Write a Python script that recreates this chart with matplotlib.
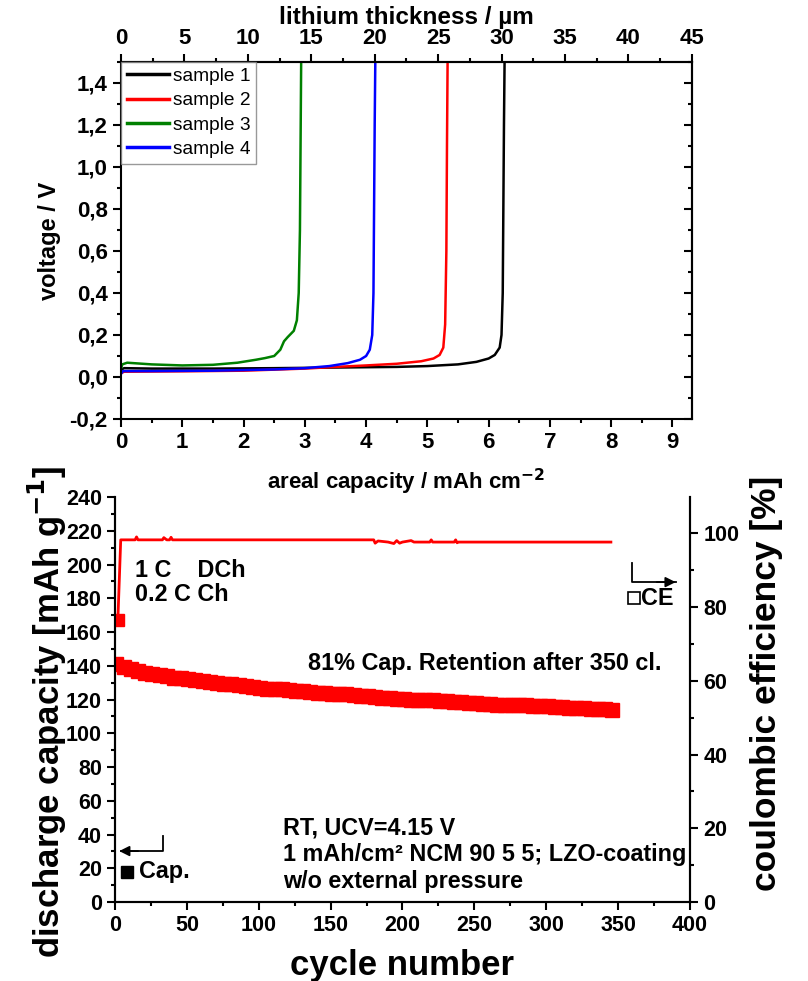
import numpy as np
import matplotlib
matplotlib.use('Agg')
import matplotlib.pyplot as plt
from matplotlib.ticker import MultipleLocator, FuncFormatter

plt.rcParams['font.family'] = ['Liberation Sans', 'DejaVu Sans']
plt.rcParams['font.weight'] = 'bold'
plt.rcParams['axes.labelweight'] = 'bold'
plt.rcParams['axes.linewidth'] = 1.5

# ---- top panel: voltage vs areal capacity ----
s1_x = [0, 0.05, 0.5, 1.5, 2.5, 3.5, 4.5, 5.0, 5.5, 5.8, 6.0, 6.1, 6.18, 6.21, 6.23, 6.24, 6.25, 6.26]
s1_y = [0.035, 0.042, 0.04, 0.04, 0.042, 0.045, 0.048, 0.052, 0.06, 0.072, 0.088, 0.105, 0.14, 0.2, 0.4, 0.8, 1.2, 1.5]
s2_x = [0, 0.05, 1, 2, 3, 3.5, 4, 4.5, 4.9, 5.1, 5.2, 5.26, 5.29, 5.31, 5.32, 5.33]
s2_y = [0.018, 0.025, 0.027, 0.03, 0.04, 0.048, 0.055, 0.063, 0.075, 0.088, 0.105, 0.14, 0.25, 0.6, 1.1, 1.5]
s3_x = [0, 0.02, 0.1, 0.5, 1.0, 1.5, 1.9, 2.2, 2.35, 2.5, 2.6, 2.66, 2.72, 2.82, 2.87, 2.9, 2.92, 2.93, 2.94]
s3_y = [0.04, 0.06, 0.068, 0.06, 0.055, 0.058, 0.068, 0.082, 0.09, 0.1, 0.13, 0.17, 0.19, 0.22, 0.27, 0.4, 0.7, 1.1, 1.5]
s4_x = [0, 0.03, 0.5, 1.5, 2.5, 3.0, 3.4, 3.7, 3.9, 4.0, 4.06, 4.1, 4.12, 4.13, 4.14, 4.15]
s4_y = [0.015, 0.028, 0.028, 0.03, 0.036, 0.042, 0.052, 0.066, 0.082, 0.1, 0.13, 0.2, 0.4, 0.8, 1.2, 1.5]
sample_labels = ['sample 1', 'sample 2', 'sample 3', 'sample 4']
sample_colors = ['black', 'red', 'green', 'blue']

# ---- bottom panel: cycling ----
cap_cycle = np.arange(1, 347, 5)
cap_values = [141, 139.5, 138, 137, 136, 135, 134.5, 134, 133, 132.5,
              132, 131.5, 131, 130.5, 130, 129.5, 129, 128.5, 128, 127.5,
              127, 126.5, 126.5, 126, 125.5, 125, 125, 124.5, 124, 124,
              123.5, 123, 123, 122.5, 122, 122, 121.5, 121, 121, 120.5,
              120.5, 120, 120, 119.5, 119.5, 119, 119, 118.5, 118.5, 118,
              118, 117.5, 117.5, 117, 117, 117, 116.5, 116.5, 116, 116,
              116, 115.5, 115.5, 115, 115, 115, 114.5, 114.5, 114.5, 114]
ce_cycle = [2, 4, 14, 15, 16, 33, 34, 36, 38, 39, 40, 180, 181, 183, 190, 194, 196,
            198, 200, 206, 208, 219, 220, 221, 236, 237, 238, 239, 345]
ce_values = [76.4, 98.2, 98.2, 99.0, 98.2, 98.2, 98.8, 98.2, 98.2, 98.9, 98.2, 98.2, 97.3,
             97.9, 97.6, 97.2, 98.0, 97.3, 97.6, 98.0, 97.6, 97.6, 98.2, 97.6, 97.6,
             98.2, 97.4, 97.6, 97.6]

fig = plt.figure(figsize=(8.08, 9.81), dpi=100)

ax1 = fig.add_axes([0.1498, 0.5729, 0.7067, 0.3639])
for xs, ys, lab, col in zip([s1_x, s2_x, s3_x, s4_x], [s1_y, s2_y, s3_y, s4_y], sample_labels, sample_colors):
    ax1.plot(xs, ys, color=col, lw=1.8, label=lab)
ax1.set_xlim(0, 9.32)
ax1.set_ylim(-0.2, 1.5)
ax1.xaxis.set_major_locator(MultipleLocator(1))
ax1.xaxis.set_minor_locator(MultipleLocator(0.5))
ax1.yaxis.set_major_locator(MultipleLocator(0.2))
ax1.yaxis.set_minor_locator(MultipleLocator(0.1))
ax1.yaxis.set_major_formatter(FuncFormatter(lambda v, p: f'{v:.1f}'.replace('.', ',')))
ax1.tick_params(which='major', direction='out', length=6, width=1.5, labelsize=16)
ax1.tick_params(which='minor', direction='out', length=3, width=1.5)
ax1.set_ylabel('voltage / V', fontsize=17, labelpad=6)
ax1.set_xlabel('areal capacity / mAh cm$^{\\mathbf{-2}}$', fontsize=16, labelpad=10)

top = ax1.secondary_xaxis('top', functions=(lambda x: x * 4.83, lambda x: x / 4.83))
top.xaxis.set_major_locator(MultipleLocator(5))
top.xaxis.set_minor_locator(MultipleLocator(2.5))
top.tick_params(which='major', direction='out', length=6, width=1.5, labelsize=16)
top.tick_params(which='minor', direction='out', length=3, width=1.5)
top.set_xlabel('lithium thickness / µm', fontsize=17.5, labelpad=3)

right = ax1.secondary_yaxis('right')
right.yaxis.set_major_locator(MultipleLocator(0.2))
right.yaxis.set_minor_locator(MultipleLocator(0.1))
right.tick_params(which='major', direction='in', length=6, width=1.5, labelright=False)
right.tick_params(which='minor', direction='in', length=3, width=1.5)

leg = ax1.legend(loc='upper left', borderaxespad=0, fancybox=False, frameon=True,
                 handlelength=2.2, labelspacing=0.36, borderpad=0.3, handletextpad=0.2,
                 prop={'family': 'Liberation Sans', 'weight': 'normal', 'size': 13.8})
leg.get_frame().set_edgecolor('gray')
leg.get_frame().set_linewidth(1.0)
for line in leg.get_lines():
    line.set_linewidth(2.5)

# ---- bottom ----
ax2 = fig.add_axes([0.1423, 0.0805, 0.7116, 0.4128])
ax2.plot(cap_cycle, cap_values, 's', color='red', ms=9.5, mec='red')
ax2.set_xlim(0, 400)
ax2.set_ylim(0, 240)
ax2.xaxis.set_major_locator(MultipleLocator(50))
ax2.xaxis.set_minor_locator(MultipleLocator(25))
ax2.yaxis.set_major_locator(MultipleLocator(20))
ax2.yaxis.set_minor_locator(MultipleLocator(10))
ax2.tick_params(which='major', direction='out', length=6, width=1.5, labelsize=15.5)
ax2.tick_params(which='minor', direction='out', length=3, width=1.5)
ax2.spines['top'].set_visible(False)
ax2.set_xlabel('cycle number', fontsize=25, labelpad=9)
ax2.set_ylabel('discharge capacity [mAh g$^{\\mathbf{-1}}$]', fontsize=25)
ax2.yaxis.set_label_coords(-0.08, 0.47)

ax3 = ax2.twinx()
ax3.plot(ce_cycle, ce_values, '-', color='red', lw=2)
ax3.plot(ce_cycle[0], ce_values[0], 's', color='red', ms=8.5)
ax3.set_ylim(0, 109.8)
ax3.yaxis.set_major_locator(MultipleLocator(20))
ax3.yaxis.set_minor_locator(MultipleLocator(10))
ax3.tick_params(which='major', direction='out', length=6, width=1.5, labelsize=15.5)
ax3.tick_params(which='minor', direction='out', length=3, width=1.5)
ax3.spines['top'].set_visible(False)
ax3.set_ylabel('coulombic efficiency [%]', fontsize=25.5)
ax3.yaxis.set_label_coords(1.105, 0.54)

# annotations
fs = 16.8
ax2.text(14, 196.5, '1 C    DCh', fontsize=fs, va='center')
ax2.text(14, 182, '0.2 C Ch', fontsize=fs, va='center')
ax2.text(134, 141.5, '81% Cap. Retention after 350 cl.', fontsize=fs, va='center')
ax2.text(117, 43.8, 'RT, UCV=4.15 V', fontsize=fs, va='center')
ax2.text(117, 27.9, '1 mAh/cm² NCM 90 5 5; LZO-coating', fontsize=fs, va='center')
ax2.text(117, 11.9, 'w/o external pressure', fontsize=fs, va='center')

ax2.plot([359.7, 359.7, 390], [201, 189.6, 189.6], color='black', lw=1.3)
ax2.annotate('', xy=(392, 189.6), xytext=(375, 189.6),
             arrowprops=dict(arrowstyle='-|>', color='black', lw=1.3, mutation_scale=15))
ax2.plot(361, 180.1, 's', ms=9, mfc='white', mec='black', mew=1.2)
ax2.text(366, 180.1, 'CE', fontsize=fs, va='center')

ax2.plot([33.4, 33.4, 4], [39.1, 30.2, 30.2], color='black', lw=1.3)
ax2.annotate('', xy=(1, 30.2), xytext=(18, 30.2),
             arrowprops=dict(arrowstyle='-|>', color='black', lw=1.3, mutation_scale=15))
ax2.plot(8.5, 17.8, 's', ms=8, color='black')
ax2.text(17, 17.8, 'Cap.', fontsize=fs, va='center')

plt.savefig('out.png', dpi=100)
